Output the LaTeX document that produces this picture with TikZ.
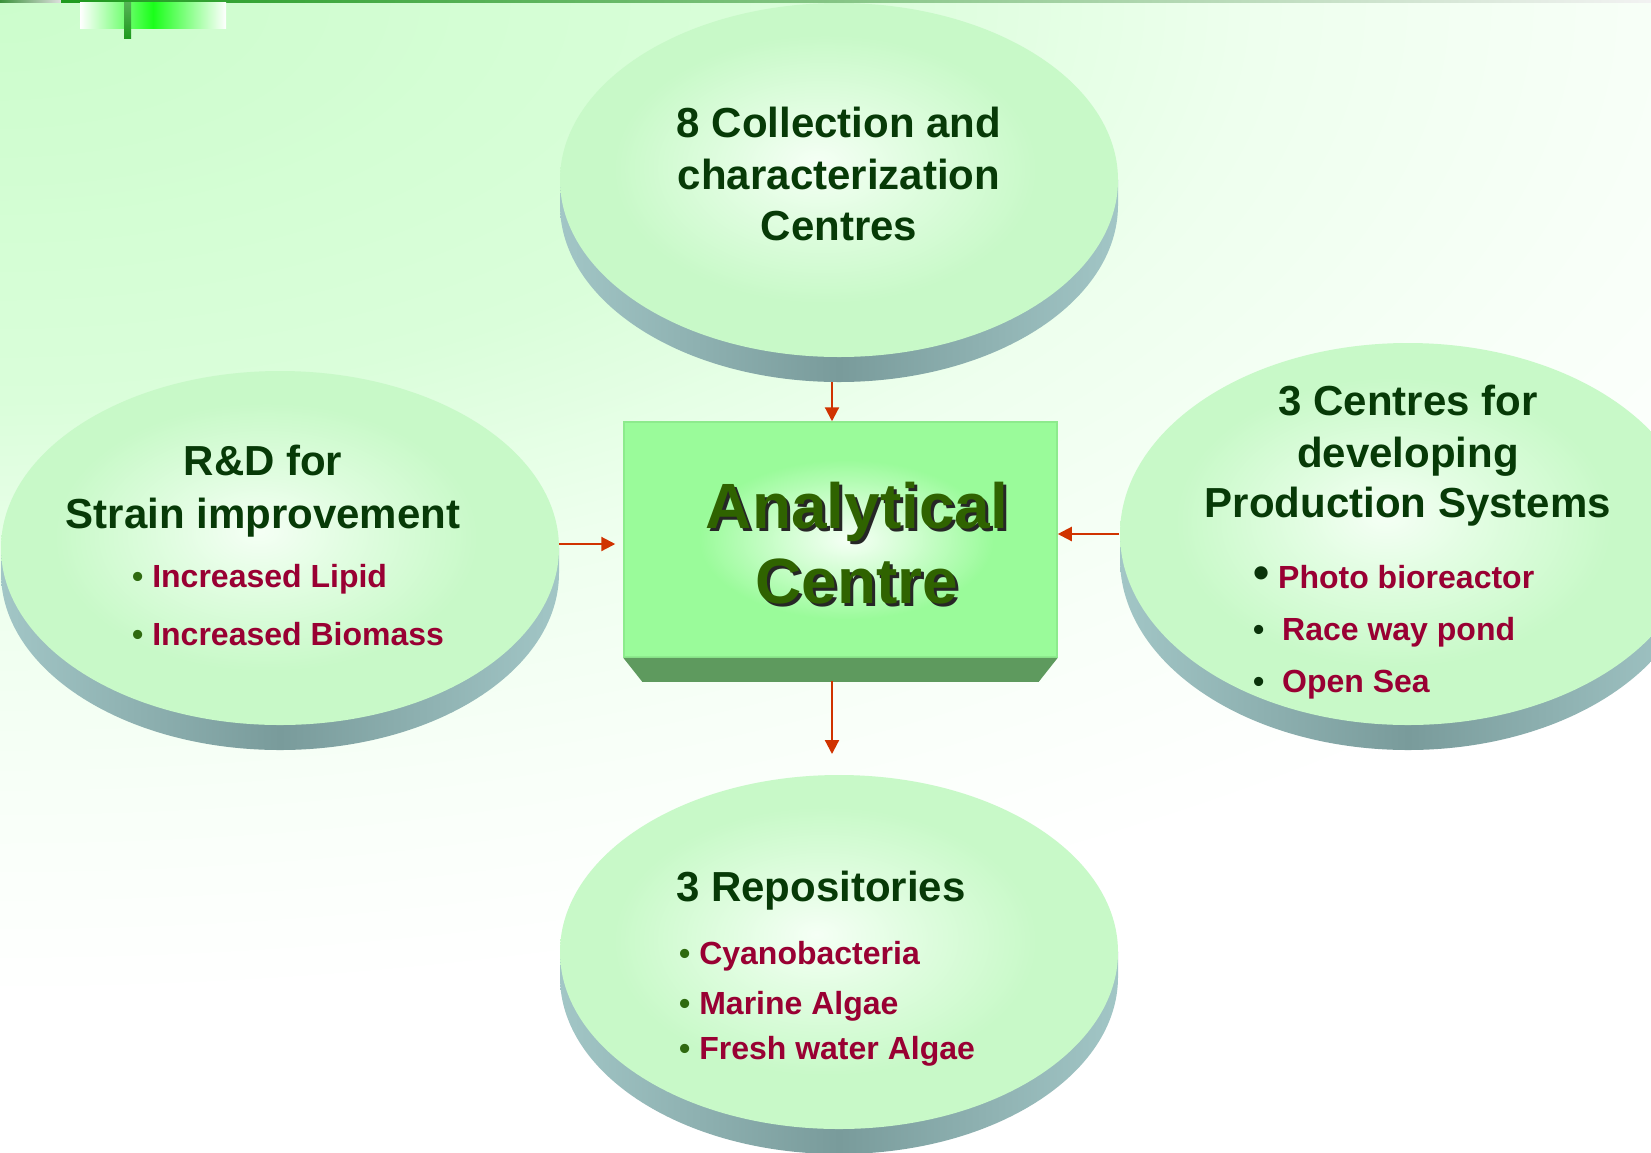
\documentclass[tikz,border=0pt]{standalone}
\usepackage{fontspec}
\setmainfont{Liberation Sans}
\usetikzlibrary{arrows.meta}

\definecolor{bg0}{HTML}{CCFDCC}
\definecolor{bg1}{HTML}{DAFEDA}
\definecolor{bg2}{HTML}{EEFFEE}
\definecolor{bg3}{HTML}{F8FFF8}
\definecolor{facec}{HTML}{F5FFF5}
\definecolor{facem}{HTML}{E1FDE1}
\definecolor{facee}{HTML}{C8F9C8}
\definecolor{bandl}{HTML}{A2C6C6}
\definecolor{bandm}{HTML}{799B9B}
\definecolor{headgreen}{HTML}{073A07}
\definecolor{itemred}{HTML}{990033}
\definecolor{bulgreen}{HTML}{2F6A10}
\definecolor{buldark}{HTML}{0A330A}
\definecolor{acgreen}{HTML}{2F6300}
\definecolor{boxc}{HTML}{F6FFF6}
\definecolor{boxm}{HTML}{D2FED2}
\definecolor{boxe}{HTML}{9AFB9A}
\definecolor{boxline}{HTML}{8DEB8D}
\definecolor{bevelcol}{HTML}{5E9A5E}
\definecolor{arrowred}{HTML}{D03300}
\definecolor{barg}{HTML}{1E9A1E}
\definecolor{decog}{HTML}{1AFF1A}

% radial shadings: 25bp is the rim of the shaded path
% page wash, greenest in the upper left corner
\pgfdeclareradialshading{bgsh}{\pgfpoint{0bp}{0bp}}{color(0bp)=(bg0); color(10bp)=(bg1); color(15bp)=(bg2); color(20bp)=(bg3); color(25bp)=(white); color(50bp)=(white)}
% soft glow on the top face of each disk
\pgfdeclareradialshading{facesh}{\pgfpoint{-2bp}{2.5bp}}{color(0bp)=(facec); color(8bp)=(facem); color(19bp)=(facee); color(50bp)=(facee)}
% glow of the central block
\pgfdeclareradialshading{boxsh}{\pgfpoint{1bp}{0bp}}{color(0bp)=(boxc); color(7bp)=(boxm); color(17bp)=(boxe); color(50bp)=(boxe)}

% a flat disk: rim band below, shaded top face above
\newcommand\drawdisk[4]{%
  \shade[left color=bandl, right color=bandl, middle color=bandm]
    (#1-#3,#2) -- (#1-#3,#2+25)
    arc[start angle=180, end angle=0, x radius=#3, y radius=#4]
    -- (#1+#3,#2) -- cycle;
  \shade[shading=facesh] (#1,#2) ellipse[x radius=#3, y radius=#4];
}
\newcommand\bul{\textcolor{bulgreen}{•}\ }

\begin{document}
\begin{tikzpicture}[x=1pt,y=-1pt,
  head/.style={font=\fontsize{42}{50}\selectfont\bfseries, text=headgreen, anchor=base, inner sep=0pt},
  item/.style={font=\fontsize{32}{38}\selectfont\bfseries, text=itemred, anchor=base west, inner sep=0pt},
  big/.style={font=\fontsize{64}{75}\selectfont\bfseries, anchor=base, inner sep=0pt},
  conn/.style={draw=arrowred, line width=2.2pt, -{Triangle[length=14pt,width=14pt]}}]

\useasboundingbox (0,0) rectangle (1651,1152);
\clip (0,0) rectangle (1651,1152);

% background
\fill[white] (0,0) rectangle (1651,1152);
\shade[shading=bgsh] (-2100,-1000) rectangle (2100,1000);

% header rule and ornament
\shade[left color=barg!70!gray, right color=gray!25] (0,0) rectangle (61,2.3);
\shade[left color=barg, middle color=barg!40!white, right color=gray!10] (61,0) rectangle (1651,2.3);
\shade[left color=white, right color=decog] (80,2.3) rectangle (153,28);
\shade[left color=decog, right color=white] (153,2.3) rectangle (226,28);
\shade[top color=barg!75!white, bottom color=barg] (124,2.3) rectangle (131,38);

% disks
\drawdisk{839}{180}{279}{177}
\drawdisk{280}{548}{279}{177}
\drawdisk{1408}{534}{288}{191}
\drawdisk{839}{952}{279}{177}

% central block
\node[shading=boxsh, draw=boxline, line width=1.5pt, minimum width=433pt, minimum height=235pt, inner sep=0pt] (ac) at (840.5,539.5) {};
\fill[bevelcol] (ac.south west) -- (ac.south east)
  -- ([xshift=-19pt,yshift=-24pt]ac.south east)
  -- ([xshift=19pt,yshift=-24pt]ac.south west) -- cycle;

\node[big, text=black!85] (acs1) at (860,531) {Analytical};
\node[big, text=black!85] (acs2) at (860,606) {Centre};
\node[big, text=acgreen] (ac1) at (857,528) {Analytical};
\node[big, text=acgreen] (ac2) at (857,603) {Centre};

% top disk text
\node[head] (t1) at (839,137) {8 Collection and};
\node[head] (t2) at (839,189) {characterization};
\node[head] (t3) at (839,240) {Centres};

% left disk text
\node[head] (l1) at (263,475) {R\&D for};
\node[head] (l2) at (263,528) {Strain improvement};
\node[item] (li1) at (132,587) {\bul Increased Lipid};
\node[item] (li2) at (132,645) {\bul Increased Biomass};

% right disk text
\node[head] (r1) at (1408,415) {3 Centres for};
\node[head] (r2) at (1408,467) {developing};
\node[head] (r3) at (1408,517) {Production Systems};
\node[item] (ri1) at (1253,588) {\textcolor{buldark}{\fontsize{46}{46}\selectfont•}\ Photo bioreactor};
\node[item] (ri2) at (1253,640) {\textcolor{buldark}{•}\ \ Race way pond};
\node[item] (ri3) at (1253,692) {\textcolor{buldark}{•}\ \ Open Sea};

% bottom disk text
\node[head] (b1) at (821,901) {3 Repositories};
\node[item] (bi1) at (679,964) {\bul Cyanobacteria};
\node[item] (bi2) at (679,1014) {\bul Marine Algae};
\node[item] (bi3) at (679,1059) {\bul Fresh water Algae};

% connectors
\coordinate (topout) at (832,382);
\coordinate (leftout) at (559,544);
\coordinate (rightout) at (1119,534);
\coordinate (bevelbot) at (832,681);
\coordinate (botin) at (832,754);
\draw[conn] (topout) -- (topout |- ac.north);
\draw[conn, shorten >=8pt] (leftout) -- (leftout -| ac.west);
\draw[conn] (rightout) -- (rightout -| ac.east);
\draw[conn] (bevelbot) -- (botin);
\end{tikzpicture}
\end{document}
